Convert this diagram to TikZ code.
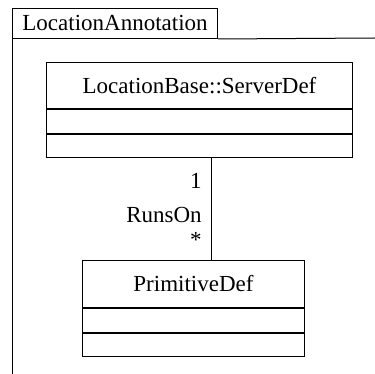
\documentclass[tikz,border=0pt]{standalone}
\usepackage{fontspec}
\setmainfont{Liberation Serif}
\usetikzlibrary{positioning}

\tikzset{
  umltext/.style={font=\fontsize{23}{27}\selectfont},
  compart/.style={draw, line width=1pt, inner sep=0pt, anchor=north west},
}

\begin{document}
\begin{tikzpicture}[x=1pt, y=-1pt, line width=1pt]
  \useasboundingbox (0,0) rectangle (375,374);

  % package frame
  \node[compart, umltext, minimum width=205pt, minimum height=30pt] (pkgtab) at (12,8) {LocationAnnotation};
  \coordinate (pkgbottom) at (12,375);
  \coordinate (pkgright) at (375,38);
  \draw (pkgtab.south west) -- (pkgbottom);
  \draw (pkgtab.south east) -- (pkgright);

  % server class
  \node[compart, umltext, minimum width=306pt, minimum height=46pt] (srvname) at (46,62) {LocationBase::ServerDef};
  \node[compart, minimum width=306pt, minimum height=24pt] (srvattr) at (srvname.south west) {};
  \node[compart, minimum width=306pt, minimum height=23pt] (srvops) at (srvattr.south west) {};

  % primitive class
  \node[compart, umltext, minimum width=222pt, minimum height=47pt] (primname) at (82,260) {PrimitiveDef};
  \node[compart, minimum width=222pt, minimum height=24pt] (primattr) at (primname.south west) {};
  \node[compart, minimum width=222pt, minimum height=23pt] (primops) at (primattr.south west) {};

  % association
  \draw ([xshift=12pt]srvops.south) -- ([xshift=12pt]srvops.south |- primname.north)
    node[umltext, pos=0.22, anchor=east, xshift=-6pt] (mult1) {1}
    node[umltext, pos=0.56, anchor=east, xshift=-6pt] (assoc) {RunsOn}
    node[umltext, pos=0.80, anchor=east, xshift=-6pt] (multn) {*};

\end{tikzpicture}
\end{document}
